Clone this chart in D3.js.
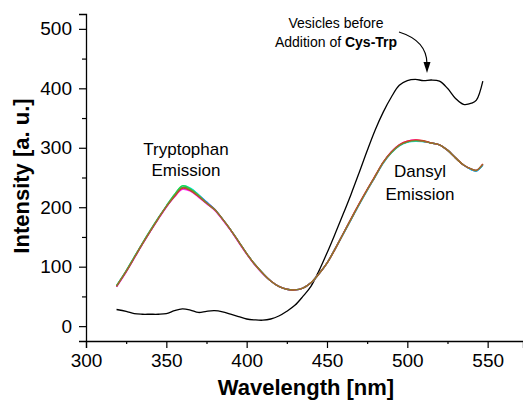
<!DOCTYPE html>
<html><head><meta charset="utf-8">
<script src="https://cdn.jsdelivr.net/npm/d3@7/dist/d3.min.js"></script>
<style>
html,body{margin:0;padding:0;background:#fff;}
text{font-family:"Liberation Sans",Arial,sans-serif;fill:#000;}
</style></head>
<body>
<svg id="c" width="523" height="401"></svg>
<script>
// ---- data ----
const blackWl = [319,325,330,335,340,345,350,355,360,365,370,375,380,385,390,395,400,405,410,415,420,425,430,435,440,445,450,455,460,465,470,475,480,485,490,495,500,505,510,515,520,525,530,535,540,543,547];
const blackVals = [28,25,21,20,20,20,21,26,29,27,23,25,26,24,20,16,12,10.5,10,12,17,25,35,50,67,93,123,155,188,222,258,295,330,360,385,405,413,415,413,414,412,400,383,373,375,380,412];

const colWl = [319,325,330,335,340,345,350,355,360,365,370,375,380,385,390,395,400,405,410,415,420,425,430,435,440,445,450,455,460,465,470,475,480,485,490,495,500,505,510,515,520,525,530,535,540,543,547];
const blueVals    = [67,92,115,138,160,181,201,219,233,231,221,209,197,180,162,142,122,104,89,76,67,62,61,64,73,88,106,130,155,180,205,229,252,275,292,304,310,312,311,308,305,296,283,271,263,261,271];
const cyanVals    = [68,93,116,139,161,182,202,221,236,232,221,208,196,180,162,142,122,104,89,76,67,62,61,64,73,88,106,129,154,179,204,228,251,274,291,303,309,311,310,308,305,296,283,271,263,261,271];
const greenVals   = [68,93,116,139,161,182,202,221,236,231,220,207,196,180,162,142,122,104,89,76,67,62,61,64,73,88,106,130,155,180,205,229,252,275,292,304,310,312,311,308,305,296,283,271,264,262,272];
const magentaVals = [66,91,114,137,159,180,200,217,230,227,217,206,195,179,161,141,121,103,88,76,67,62,61,64,73,88,106,130,155,180,205,229,252,275,293,305,311,313,311,308,305,296,283,271,264,262,272];
const redVals     = [67,92,115,138,160,181,201,218,232,228,218,207,196,180,162,142,122,104,89,76,67,62,61,64,73,88,106,129,155,181,206,230,253,276,293,305,311,313,312,308,305,296,283,271,264,262,273];
const oliveVals   = [67,92,115,138,160,181,201,219,233,229,219,207,196,180,162,142,122,104,89,76,67,62,61,64,73,88,106,130,155,180,205,229,252,275,292,304,310,312,311,308,305,296,283,271,264,262,272];
const colSeries = [
  {name:"blue", color:"#1f3fff", vals:blueVals},
  {name:"cyan", color:"#00e5e5", vals:cyanVals},
  {name:"green", color:"#22dd44", vals:greenVals},
  {name:"magenta", color:"#ff22ff", vals:magentaVals},
  {name:"red", color:"#ee2222", vals:redVals},
  {name:"olive", color:"#8a7a2a", vals:oliveVals}
];

const xMajor = [300,350,400,450,500,550];
const xMinor = [325,375,425,475,525];
const yMajor = [0,100,200,300,400,500];
const yMinor = [50,150,250,350,450];

// ---- chart ----
const svg = d3.select("#c");
const x = d3.scaleLinear().domain([300,572]).range([86,523]);
const y = d3.scaleLinear().domain([-25,525]).range([341,14]);

const line = (wl) => d3.line().x((d,i)=>x(wl[i])).y(d=>y(d)).curve(d3.curveCatmullRom.alpha(0.5));

// curves
svg.append("path").datum(blackVals).attr("d", line(blackWl))
  .attr("fill","none").attr("stroke","#000").attr("stroke-width",1.3);
colSeries.forEach(s=>{
  svg.append("path").datum(s.vals).attr("d", line(colWl))
    .attr("fill","none").attr("stroke",s.color).attr("stroke-width",1.4);
});

// axes
const fontTick = 19;
const gx = svg.append("g").attr("transform","translate(0,341)")
  .call(d3.axisBottom(x).tickValues(xMajor).tickSize(7).tickPadding(6).tickFormat(d3.format("d")));
svg.append("g").attr("transform","translate(0,341)")
  .call(d3.axisBottom(x).tickValues(xMinor).tickSize(3).tickFormat(""))
  .select(".domain").remove();
const gy = svg.append("g").attr("transform","translate(86,0)")
  .call(d3.axisLeft(y).tickValues(yMajor).tickSize(7).tickPadding(7).tickFormat(d3.format("d")));
svg.append("g").attr("transform","translate(86,0)")
  .call(d3.axisLeft(y).tickValues(yMinor).tickSize(4).tickFormat(""))
  .select(".domain").remove();

svg.selectAll(".domain").attr("stroke","#000").attr("stroke-width",1.3);
svg.selectAll(".tick line").attr("stroke","#000").attr("stroke-width",1.2);
svg.selectAll(".tick text").attr("font-size",fontTick)
  .attr("font-family","Liberation Sans, Arial, sans-serif").attr("fill","#1a1a1a");

// axis titles
svg.append("text").attr("x",306).attr("y",395).attr("text-anchor","middle")
  .attr("font-size",22).attr("font-weight","bold").text("Wavelength [nm]");
svg.append("text").attr("transform","translate(29,176) rotate(-90)").attr("text-anchor","middle")
  .attr("font-size",22).attr("font-weight","bold").text("Intensity [a. u.]");

// annotations
const ann = svg.append("g").attr("font-size",17).attr("text-anchor","middle");
ann.append("text").attr("x",186).attr("y",155).text("Tryptophan");
ann.append("text").attr("x",186).attr("y",176).text("Emission");
ann.append("text").attr("x",420).attr("y",177).text("Dansyl");
ann.append("text").attr("x",420).attr("y",200).text("Emission");

const v = svg.append("g").attr("font-size",14).attr("text-anchor","middle");
v.append("text").attr("x",336).attr("y",28).text("Vesicles before");
const t2 = v.append("text").attr("x",336).attr("y",47);
t2.append("tspan").text("Addition of ");
t2.append("tspan").attr("font-weight","bold").text("Cys-Trp");

// arrow
svg.append("path").attr("d","M399,32 C415,37 427,46 427,64")
  .attr("fill","none").attr("stroke","#000").attr("stroke-width",1.2);
svg.append("path").attr("d","M423.5,62 L430.5,62 L427,73 Z").attr("fill","#000");
</script>
</body></html>
